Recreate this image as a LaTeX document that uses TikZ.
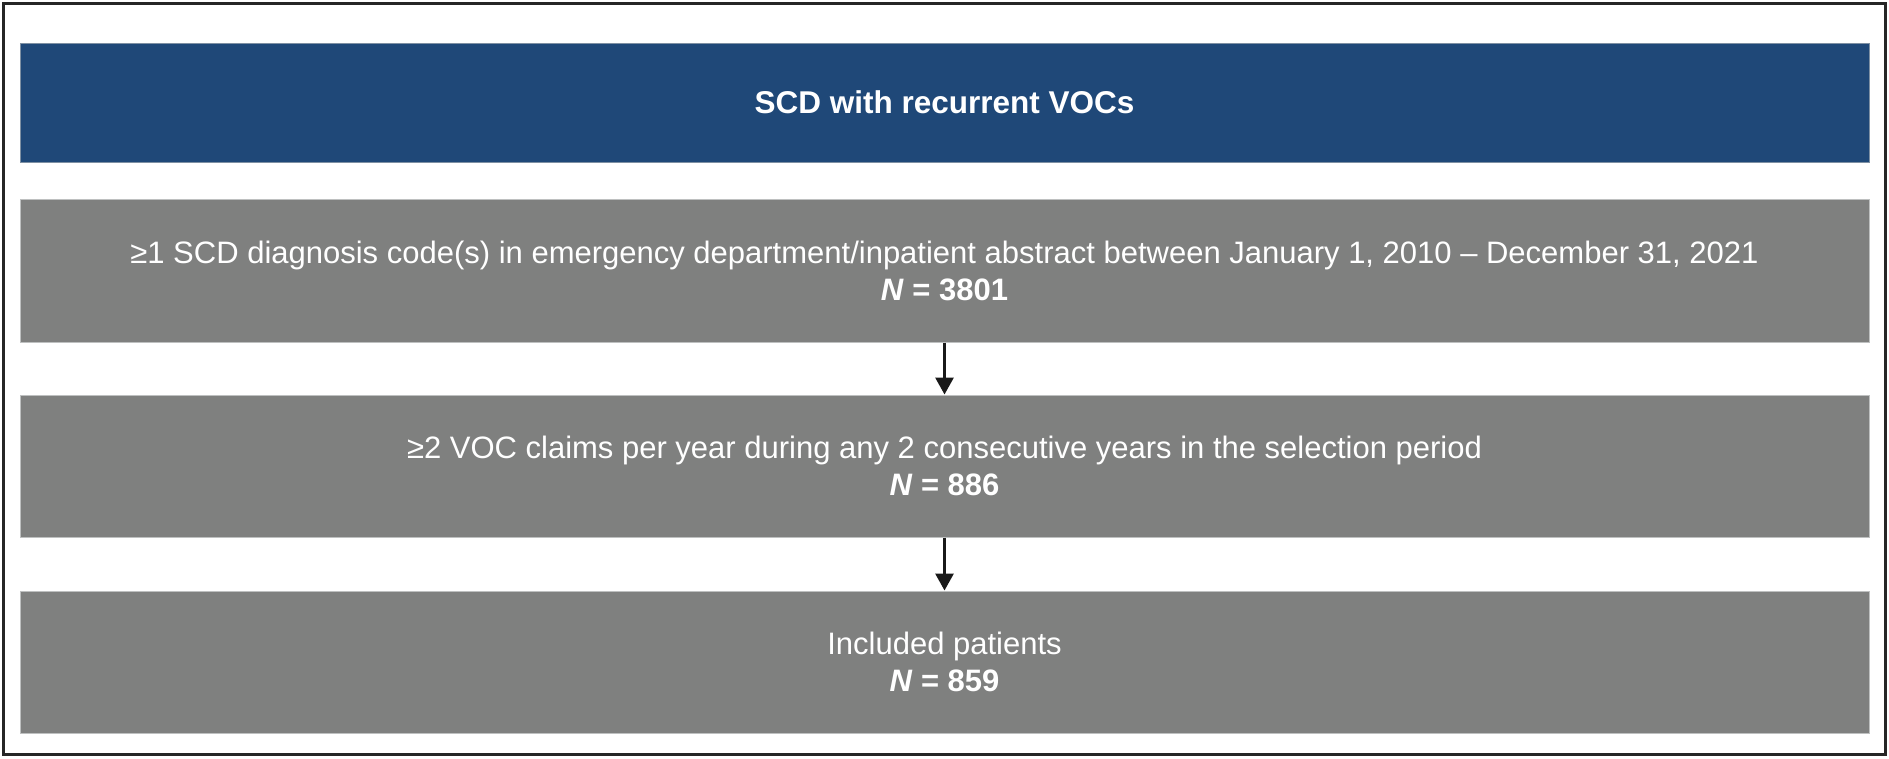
\documentclass[tikz,border=0pt]{standalone}
\usepackage{fontspec}
\setmainfont{Liberation Sans}
\usetikzlibrary{arrows.meta}
\definecolor{hdrblue}{RGB}{31,72,120}
\definecolor{boxgray}{RGB}{127,128,127}
\definecolor{boxedge}{RGB}{190,192,192}
\definecolor{arrowdark}{RGB}{25,25,25}
\begin{document}
\begin{tikzpicture}[x=1pt,y=-1pt,
  graybox/.style={draw=boxedge, line width=1pt, fill=boxgray, minimum width=1849pt,
    inner sep=0pt, text=white, align=center, font=\fontsize{31}{37}\selectfont},
  hdrbox/.style={draw=boxedge!60!hdrblue, line width=1pt, fill=hdrblue, minimum width=1849pt,
    minimum height=119pt, inner sep=0pt, text=white, font=\fontsize{31.5}{36}\selectfont\bfseries},
  flowarrow/.style={draw=arrowdark, line width=3pt, -{Triangle[width=18pt,length=17pt]}, shorten >=0pt}
]
\useasboundingbox (0,0) rectangle (1889,758);
\draw[line width=3pt, draw=black!85] (3.5,3.5) rectangle (1885.5,754.5);
\node[hdrbox] (title) at (944.5,102.5) {SCD with recurrent VOCs};
\node[graybox, minimum height=143pt] (b1) at (944.5,270.5)
  {≥1 SCD diagnosis code(s) in emergency department/inpatient abstract between January 1, 2010 – December 31, 2021\\
   \textbf{\textit{N} = 3801}};
\node[graybox, minimum height=142pt] (b2) at (944.5,466)
  {≥2 VOC claims per year during any 2 consecutive years in the selection period\\
   \textbf{\textit{N} = 886}};
\node[graybox, minimum height=142pt] (b3) at (944.5,662)
  {Included patients\\
   \textbf{\textit{N} = 859}};
\draw[flowarrow] (b1.south) -- (b2.north);
\draw[flowarrow] (b2.south) -- (b3.north);
\end{tikzpicture}
\end{document}
